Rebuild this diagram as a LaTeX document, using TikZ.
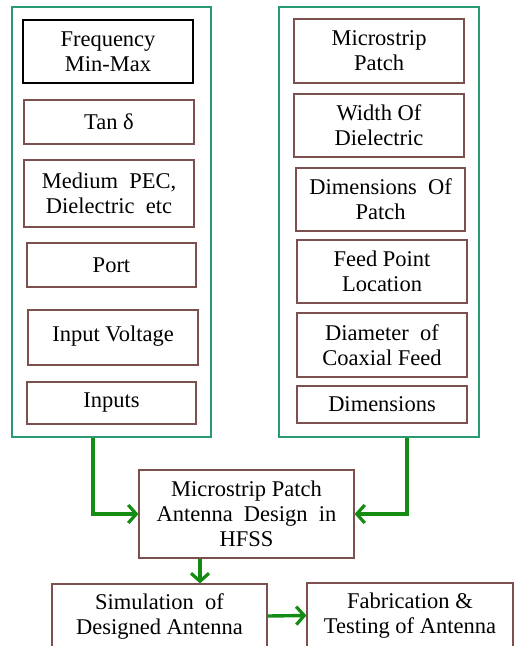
\documentclass[tikz,border=0pt]{standalone}
\usepackage{fontspec}
\setmainfont{Liberation Serif}
\usetikzlibrary{arrows.meta}
\definecolor{cont}{RGB}{40,155,115}
\definecolor{bx}{RGB}{125,80,80}
\definecolor{arrg}{RGB}{20,140,20}
\begin{document}
\begin{tikzpicture}[x=1pt,y=-1pt,
  box/.style={draw=bx, line width=1.2pt, align=center, inner sep=0pt,
    font=\fontsize{22.5}{25}\selectfont},
  container/.style={draw=cont, line width=1.5pt, inner sep=0pt},
  arr/.style={draw=arrg, line width=3.4pt,
    -{Straight Barb[length=8pt,width=18pt,line width=3.2pt]}}]
\useasboundingbox (0,0) rectangle (515,646);
% containers
\node[container, minimum width=199pt, minimum height=430pt] (lc) at (111.5,222) {};
\node[container, minimum width=200pt, minimum height=430pt] (rc) at (379,222) {};
% left boxes
\node[box, draw=black, minimum width=170pt, minimum height=63pt] (l1) at (108,51.5) {Frequency\\Min-Max};
\node[box, minimum width=170pt, minimum height=44pt] (l2) at (109,122) {Tan δ};
\node[box, minimum width=170pt, minimum height=67pt] (l3) at (109,193.5) {Medium~ PEC,\\Dielectric~ etc};
\node[box, minimum width=169pt, minimum height=44pt] (l4) at (111.5,265) {Port};
\node[box, minimum width=170pt, minimum height=55pt] (l5) at (113,337.5) {\raisebox{7pt}{Input Voltage}};
\node[box, minimum width=169pt, minimum height=42pt] (l6) at (111.5,403) {Inputs};
% right boxes
\node[box, minimum width=170pt, minimum height=64pt] (r1) at (379,51) {Microstrip\\Patch};
\node[box, minimum width=170pt, minimum height=63pt] (r2) at (379,125.5) {Width Of\\Dielectric};
\node[box, minimum width=169pt, minimum height=63pt] (r3) at (380.5,199.5) {Dimensions~ Of\\Patch};
\node[box, minimum width=170pt, minimum height=63pt] (r4) at (382,271.5) {Feed Point\\Location};
\node[box, minimum width=170pt, minimum height=64pt] (r5) at (382,345) {Diameter~ of\\Coaxial Feed};
\node[box, minimum width=170pt, minimum height=37pt] (r6) at (382,404.5) {Dimensions};
% bottom boxes
\node[box, minimum width=215pt, minimum height=88pt] (hfss) at (246.5,514) {Microstrip Patch\\Antenna~ Design~ in\\HFSS};
\node[box, minimum width=215pt, minimum height=64pt] (sim) at (159.5,616) {Simulation~ of\\Designed Antenna};
\node[box, minimum width=206pt, minimum height=65pt] (fab) at (410,615.5) {Fabrication \&\\Testing of Antenna};
% arrows
\draw[arr] ([xshift=-18.5pt]lc.south) |- (hfss.west);
\draw[arr] ([xshift=28pt]rc.south) |- (hfss.east);
\draw[arr] ([xshift=-46.5pt]hfss.south) -- ([xshift=-46.5pt]hfss.south |- sim.north);
\draw[arr] (sim.east) -- (fab.west);
\end{tikzpicture}
\end{document}
